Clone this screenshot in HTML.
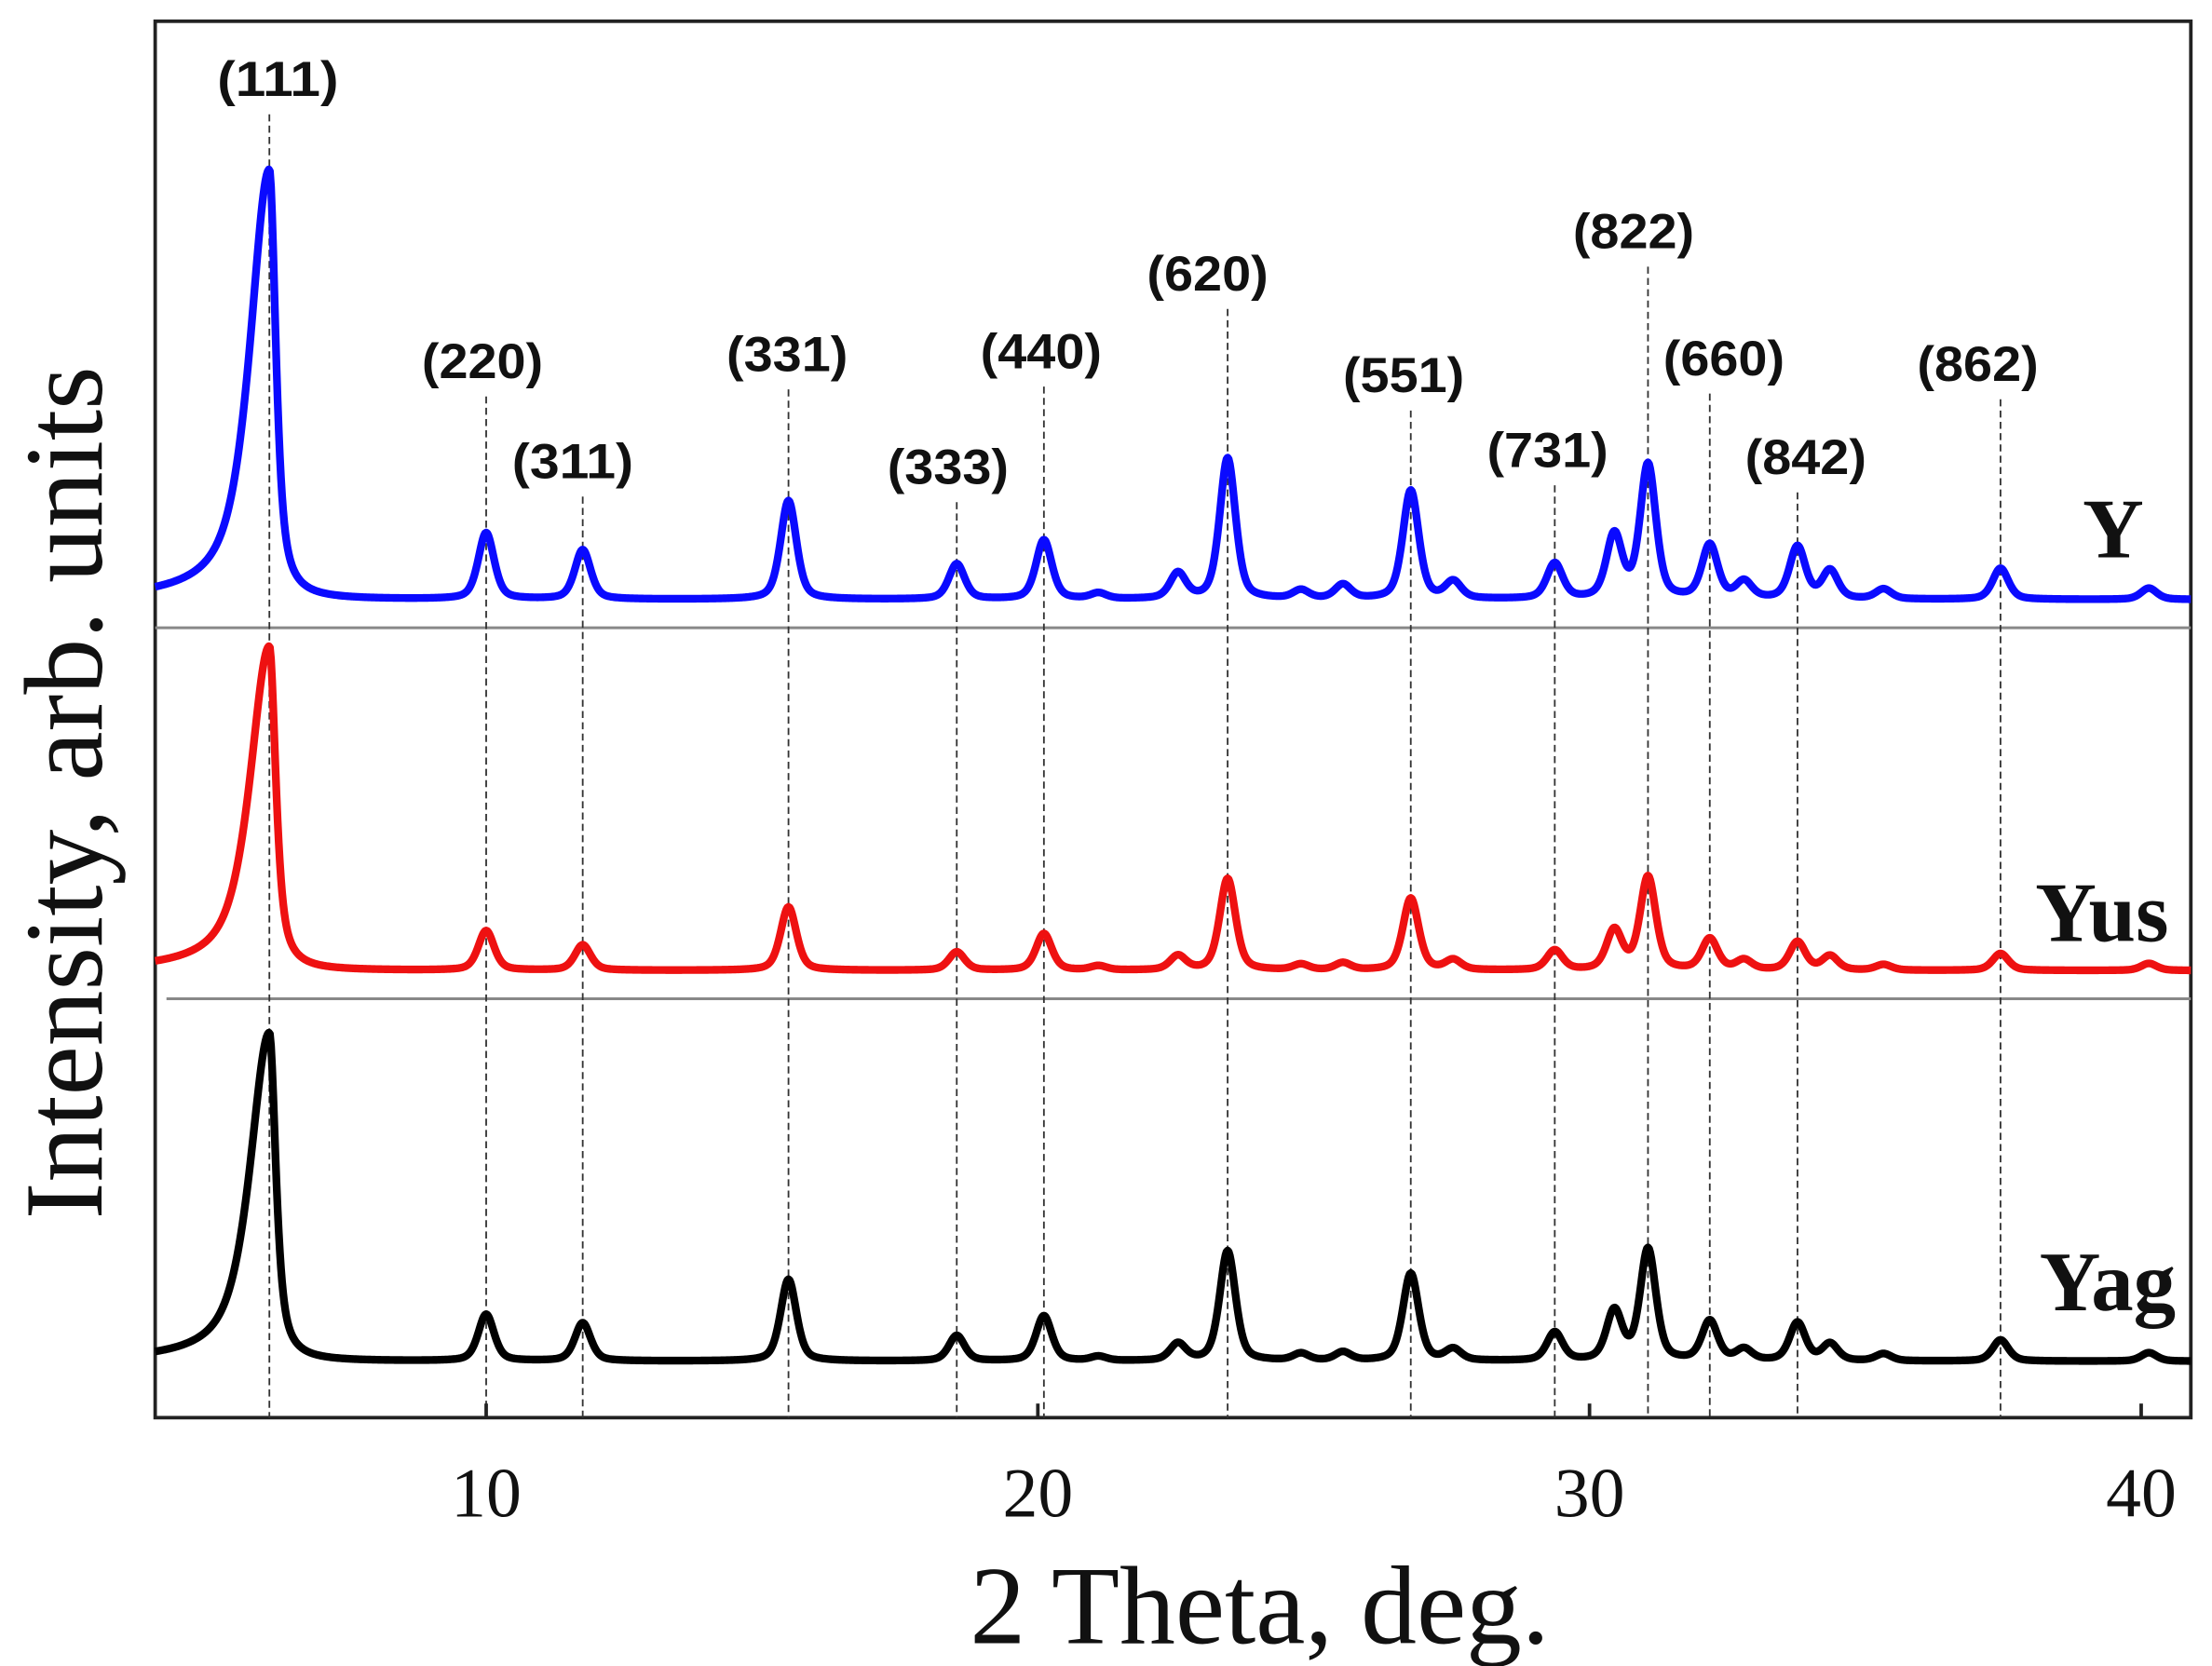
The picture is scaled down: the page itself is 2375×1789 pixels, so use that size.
<!DOCTYPE html>
<html><head><meta charset="utf-8"><style>
html,body{margin:0;padding:0;background:#fff}
svg{display:block}
.lbl{font-family:"Liberation Sans Narrow","Liberation Sans",sans-serif;font-weight:bold;font-size:35px;fill:#111}
.tick{font-family:"Liberation Serif",serif;font-size:50px;fill:#111}
.title{font-family:"Liberation Serif",serif;font-size:79px;fill:#111}
.ser{font-family:"Liberation Serif",serif;font-weight:bold;font-size:60px;fill:#111}
</style></head><body>
<svg id="chart" width="2375" height="1789" viewBox="0 0 1568 1181" xmlns="http://www.w3.org/2000/svg">
<rect x="110" y="15" width="1443" height="990" fill="none" stroke="#222" stroke-width="2.5"/>
<line x1="110" y1="445" x2="1553" y2="445" stroke="#888" stroke-width="2"/>
<line x1="118" y1="708" x2="1553" y2="708" stroke="#888" stroke-width="2"/>
<g id="guides"></g>
<g id="curves"></g>
<g id="axes"></g>
<text class="title" transform="translate(72,562) rotate(-90)" text-anchor="middle">Intensity, arb. units</text>
<text class="title" x="893" y="1165" text-anchor="middle">2 Theta, deg.</text>
<text class="ser" x="1498" y="395" text-anchor="middle">Y</text>
<text class="ser" x="1490" y="667" text-anchor="middle">Yus</text>
<text class="ser" x="1494" y="929" text-anchor="middle">Yag</text>
</svg>
<script>
const xTicks=[10,20,30,40];
const hklLabels=["(111)","(220)","(311)","(331)","(333)","(440)","(620)","(551)","(731)","(822)","(660)","(842)","(862)"];
const hklPos=[6.07,10.0,11.75,15.48,18.53,20.11,23.44,26.76,29.37,31.06,32.18,33.77,37.45];
const hklLabelY=[55,255,326,250,330,248,193,265,318,163,253,323,257];
const hklLabelX=[197,342,406,558,672,738,856,995,1097,1158,1222,1280,1402];
const peakPos=[6.07,10.0,11.75,15.48,18.53,20.11,23.44,26.76,29.37,31.06,32.18,33.77,37.45,30.45,22.54,27.53,34.36,32.8,25.53,24.77,35.33,40.14,21.1];
const seriesNames=["Y","Yus","Yag"];
const seriesOffset=[580,317,40];
const seriesColor=["#0a0aff","#ee1111","#000000"];
const heightsY=[305,47,35,70,25,42,100,77,25,95,38,37,22,45,18,12,20,12,10,6,7,8,4];
const heightsYus=[230,28,18,45,13,26,65,51,14,66,22,20,12,28,10,7,10,7,5,4,4,5,3];
const heightsYag=[233,33,27,58,18,32,78,62,20,79,28,27,15,35,12,8,12,8,6,5,5,6,3];
const seriesHeights=[heightsY,heightsYus,heightsYag];

const X0=4,X1=40.9,PL=110,PR=1553,PB=1005;
function xs(v){return PL+(v-X0)/(X1-X0)*(PR-PL);}
function ys(v){return PB-v;}
function profile(x,c,h,first){
  const d=x-c;
  let w=first?(d<0?0.42:0.14):0.17;
  const L=1/(1+(d/w)*(d/w));
  const G=Math.exp(-Math.log(2)*(d/w)*(d/w));
  const eta=first?0.75:0.45;
  return h*(eta*L+(1-eta)*G);
}
const NS="http://www.w3.org/2000/svg";
const guides=document.getElementById('guides');
hklPos.forEach((p,i)=>{
  const ln=document.createElementNS(NS,'line');
  
  
  ln.setAttribute('x1',xs(p));ln.setAttribute('x2',xs(p));
  ln.setAttribute('y1',hklLabelY[i]+26);ln.setAttribute('y2',PB);
  ln.setAttribute('stroke','#333');ln.setAttribute('stroke-width','1.2');ln.setAttribute('stroke-dasharray','5,3');
  guides.appendChild(ln);
  const t=document.createElementNS(NS,'text');
  
  
  t.setAttribute('class','lbl');t.setAttribute('x',hklLabelX[i]-43);t.setAttribute('y',hklLabelY[i]+13);
  t.setAttribute('textLength','86');t.setAttribute('lengthAdjust','spacingAndGlyphs');
  t.textContent=hklLabels[i];
  guides.appendChild(t);
});
const curves=document.getElementById('curves');
seriesNames.forEach((n,s)=>{
  let d='';
  for(let x=X0;x<=X1+0.001;x+=0.02){
    let v=seriesOffset[s];
    seriesHeights[s].forEach((h,k)=>{v+=profile(x,peakPos[k],h,k===0);});
    d+=(d?'L':'M')+xs(x).toFixed(2)+','+ys(v).toFixed(2);
  }
  const p=document.createElementNS(NS,'path');
  
  
  p.setAttribute('d',d);p.setAttribute('fill','none');
  p.setAttribute('stroke',seriesColor[s]);p.setAttribute('stroke-width','5.5');p.setAttribute('stroke-linejoin','round');
  curves.appendChild(p);
});
const axes=document.getElementById('axes');
xTicks.forEach(t=>{
  const ln=document.createElementNS(NS,'line');
  
  
  ln.setAttribute('x1',xs(t));ln.setAttribute('x2',xs(t));ln.setAttribute('y1',PB);ln.setAttribute('y2',PB-10);
  ln.setAttribute('stroke','#222');ln.setAttribute('stroke-width','2.5');
  axes.appendChild(ln);
  const tx=document.createElementNS(NS,'text');
  
  
  tx.setAttribute('class','tick');tx.setAttribute('x',xs(t));tx.setAttribute('y',1075);
  tx.setAttribute('text-anchor','middle');tx.textContent=t;
  axes.appendChild(tx);
});
</script>
</body></html>
